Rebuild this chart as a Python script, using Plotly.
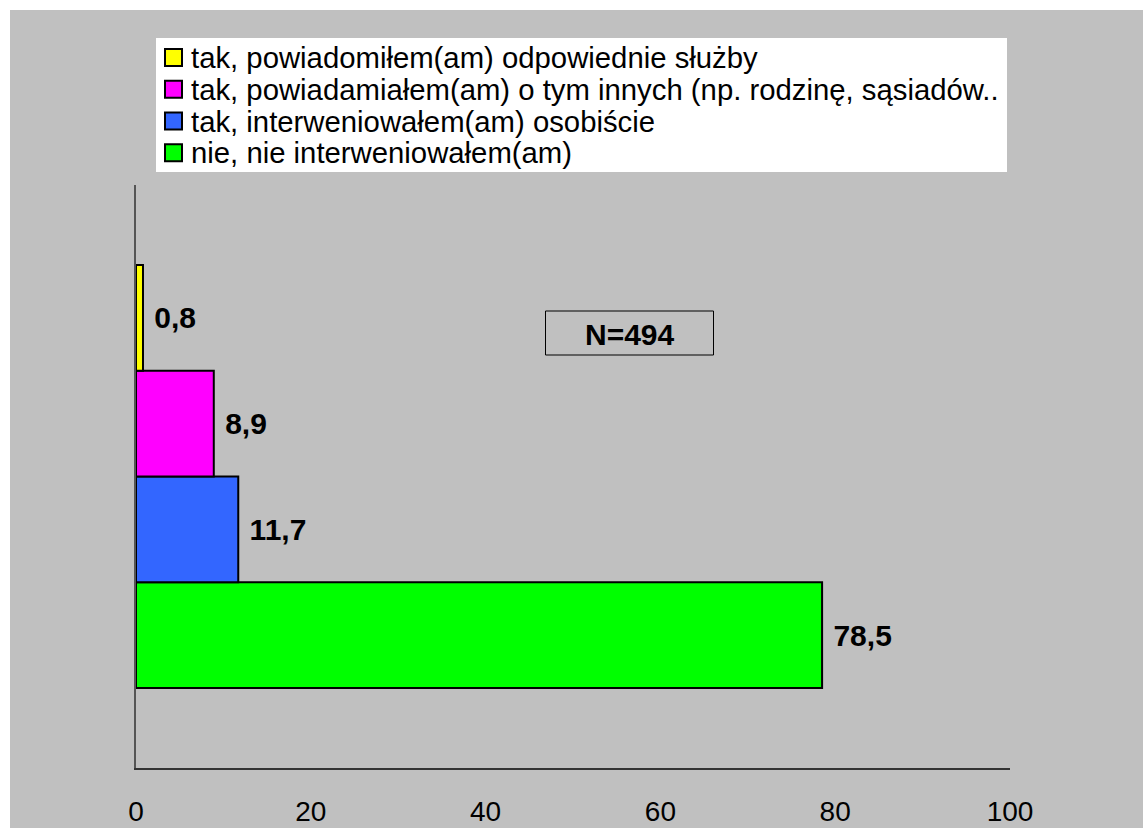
import plotly.graph_objects as go

categories = [""]
series_names = [
    "tak, powiadomiłem(am) odpowiednie służby",
    "tak, powiadamiałem(am) o tym innych (np. rodzinę, sąsiadów..",
    "tak, interweniowałem(am) osobiście",
    "nie, nie interweniowałem(am)",
]
series_values = [0.8, 8.9, 11.7, 78.5]
series_labels = ["0,8", "8,9", "11,7", "78,5"]
series_colors = ["#ffff00", "#ff00ff", "#3366ff", "#00ff00"]
x_ticks = [0, 20, 40, 60, 80, 100]
sample_note = "N=494"

FONT = "Liberation Sans, Arial, sans-serif"
W, H = 1143, 828
L, R, T, B = 136, 133, 185, 60
pw, ph = W - L - R, H - T - B


def px_x(p):
    return (p - L) / pw


def px_y(p):
    return 1 - (p - T) / ph


fig = go.Figure()
# plot bottom-to-top so the first series ends up on top
for name, val, lab, col in reversed(list(zip(series_names, series_values, series_labels, series_colors))):
    fig.add_trace(go.Bar(
        y=categories, x=[val], name=name, orientation="h",
        marker=dict(color=col, line=dict(color="black", width=2)),
        text=["\u00a0" + lab], textposition="outside", constraintext="none",
        textfont=dict(family=FONT, size=30, color="black", weight="bold"),
        cliponaxis=False, hoverinfo="skip", showlegend=False,
    ))

# N box
fig.add_shape(type="rect", xref="paper", yref="paper",
              x0=px_x(545.5), x1=px_x(713.5), y0=px_y(355), y1=px_y(311),
              line=dict(color="black", width=1), fillcolor="rgba(0,0,0,0)")
fig.add_annotation(
    xref="paper", yref="paper", x=px_x(629.5), y=px_y(334), xanchor="center", yanchor="middle",
    text="<b>" + sample_note + "</b>", showarrow=False,
    font=dict(family=FONT, size=30, color="black"),
)

# white outer margin strips
fig.add_shape(type="rect", xref="paper", yref="paper", x0=px_x(0), x1=px_x(W), y0=px_y(0), y1=px_y(10),
              fillcolor="white", line_width=0, layer="below")
fig.add_shape(type="rect", xref="paper", yref="paper", x0=px_x(0), x1=px_x(10), y0=px_y(0), y1=px_y(H),
              fillcolor="white", line_width=0, layer="below")

# legend (drawn manually to match the tight line spacing)
fig.add_shape(type="rect", xref="paper", yref="paper", x0=px_x(156), x1=px_x(1007), y0=px_y(172), y1=px_y(38),
              fillcolor="white", line_width=0)
row0, row_step = 57.5, 31.77
for i, (name, col) in enumerate(zip(series_names, series_colors)):
    cy = row0 + i * row_step
    fig.add_shape(type="rect", xref="paper", yref="paper",
                  x0=px_x(165), x1=px_x(182), y0=px_y(cy + 8.5), y1=px_y(cy - 8.5),
                  fillcolor=col, line=dict(color="black", width=2))
    fig.add_annotation(
        xref="paper", yref="paper", x=px_x(189), y=px_y(cy), xanchor="left", yanchor="middle",
        text=name, showarrow=False, font=dict(family=FONT, size=29.3, color="black"),
    )

fig.update_layout(
    width=W, height=H,
    margin=dict(l=L, r=R, t=T, b=B, pad=0, autoexpand=False),
    paper_bgcolor="#c0c0c0", plot_bgcolor="#c0c0c0",
    barmode="group", bargap=0.2744, bargroupgap=0,
    font=dict(family=FONT, size=28, color="black"),
    showlegend=False,
    xaxis=dict(
        range=[0, 100], tickvals=x_ticks, ticktext=[str(v) for v in x_ticks],
        showgrid=False, zeroline=False, showline=True, linecolor="#333333", linewidth=2,
        ticks="outside", ticklen=17, tickcolor="rgba(0,0,0,0)",
        tickfont=dict(family=FONT, size=28, color="black"), automargin=False,
    ),
    yaxis=dict(
        showgrid=False, zeroline=False, showline=True, linecolor="#555555", linewidth=2,
        showticklabels=False, ticks="", automargin=False, range=[-0.5, 0.5],
    ),
)

fig.write_html(
    "out.html",
    config={"displayModeBar": False, "staticPlot": True},
    post_script="document.body.style.margin='0';document.body.style.overflow='hidden';",
)
